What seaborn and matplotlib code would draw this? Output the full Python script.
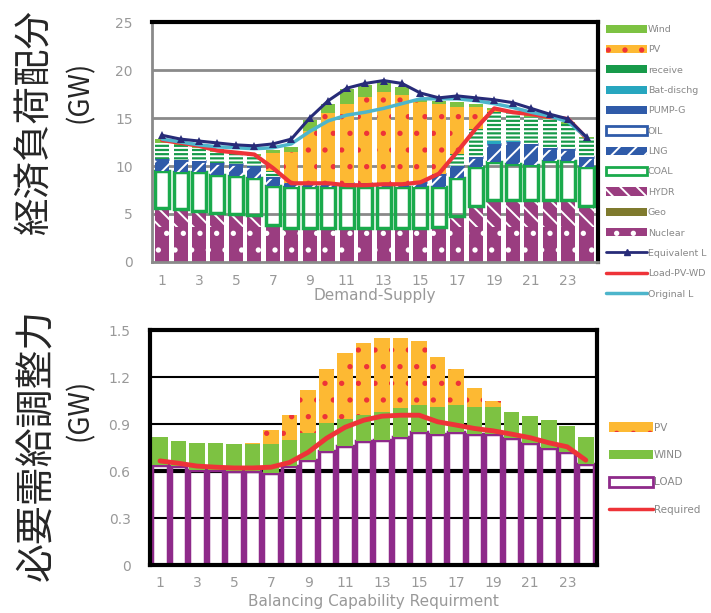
import seaborn as sns
import matplotlib.pyplot as plt
from matplotlib.patches import Patch
from matplotlib.lines import Line2D

import warnings

warnings.filterwarnings("ignore")

# ---- data (GW), hours 1..24 ----
hours = list(range(1, 25))
hour_ticks = [1, 3, 5, 7, 9, 11, 13, 15, 17, 19, 21, 23]

nuclear = [3.6, 3.6, 3.6, 3.6, 3.6, 3.6, 3.9, 3.5, 3.5, 3.5, 3.5, 3.5,
           3.5, 3.5, 3.5, 3.65, 3.6, 3.6, 3.6, 3.6, 3.6, 3.6, 3.6, 3.6]
geo = [0] * 24
hydr = [2.0, 1.9, 1.7, 1.5, 1.4, 1.3, 0, 0, 0, 0, 0, 0,
        0, 0, 0, 0, 1.2, 2.2, 2.9, 2.9, 2.9, 2.9, 2.9, 2.2]
coal = [3.9, 3.9, 4.1, 4.0, 4.0, 3.9, 4.0, 4.3, 4.3, 4.3, 4.3, 4.3,
        4.3, 4.3, 4.3, 4.15, 4.0, 4.1, 3.9, 3.7, 3.6, 4.0, 4.0, 4.1]
lng = [1.2, 1.2, 1.1, 1.2, 1.2, 1.2, 1.0, 0.4, 0.4, 0.4, 0.4, 0.4,
       0.4, 0.4, 0.5, 1.4, 1.2, 1.0, 1.9, 2.3, 2.2, 1.4, 1.3, 1.0]
oil = [0] * 24
pump_g = [0] * 24
bat_dischg = [0, 0, 0, 0, 0, 0, 0, 0, 0, 0, 0, 0,
              0, 0, 0, 0, 0, 0, 0.3, 0.1, 0, 0, 0, 0]
receive = [1.7, 1.6, 1.4, 1.2, 1.0, 1.0, 0.6, 0, 0, 0, 0, 0,
           0, 0, 0, 0, 1.3, 3.0, 3.0, 2.9, 2.8, 3.0, 2.6, 2.0]
pv = [0, 0, 0, 0, 0, 0, 1.9, 3.3, 5.4, 7.3, 8.3, 9.0,
      9.5, 9.2, 8.4, 7.3, 4.8, 2.2, 0.2, 0, 0, 0, 0, 0]
wind = [0.4, 0.3, 0.3, 0.3, 0.3, 0.3, 0.3, 0.5, 1.2, 1.0, 1.5, 1.2,
        1.0, 0.8, 0.3, 0.3, 0.6, 0.4, 0.2, 0.2, 0.2, 0.2, 0.2, 0.1]

equivalent_load = [13.2, 12.8, 12.6, 12.4, 12.2, 12.1, 12.3, 12.8, 15.0, 16.8, 18.1, 18.6,
                   18.9, 18.6, 17.6, 17.1, 17.3, 17.1, 16.9, 16.6, 16.0, 15.4, 14.9, 13.0]
original_load = [12.8, 12.5, 12.2, 12.0, 11.9, 11.8, 11.9, 12.3, 13.6, 14.7, 15.3, 15.6,
                 16.0, 16.5, 17.0, 17.0, 17.0, 16.8, 16.5, 16.1, 15.6, 15.2, 14.6, 13.0]
load_pv_wd = [12.7, 12.4, 12.1, 11.6, 11.4, 11.2, 9.8, 8.2, 8.2, 8.2, 8.0, 8.0,
              8.1, 8.1, 8.3, 9.2, 11.5, 13.9, 16.0, 15.6, 15.4, 15.1, 14.9, 12.9]

# balancing capability requirement (GW)
bc_load = [0.64, 0.63, 0.61, 0.61, 0.60, 0.60, 0.59, 0.63, 0.67, 0.73, 0.76, 0.79,
           0.80, 0.82, 0.85, 0.835, 0.85, 0.84, 0.835, 0.81, 0.78, 0.745, 0.72, 0.645]
bc_wind = [0.18, 0.16, 0.17, 0.17, 0.17, 0.17, 0.18, 0.17, 0.175, 0.18, 0.175, 0.17,
           0.18, 0.18, 0.17, 0.175, 0.17, 0.17, 0.175, 0.17, 0.175, 0.18, 0.17, 0.17]
bc_pv = [0, 0, 0, 0, 0, 0.01, 0.09, 0.16, 0.275, 0.345, 0.42, 0.46,
         0.47, 0.45, 0.41, 0.32, 0.23, 0.12, 0.04, 0, 0, 0, 0, 0]
bc_required = [0.665, 0.65, 0.632, 0.625, 0.62, 0.62, 0.625, 0.655, 0.72, 0.81, 0.88, 0.925,
               0.951, 0.957, 0.957, 0.915, 0.894, 0.872, 0.857, 0.836, 0.813, 0.781, 0.755, 0.67]

# ---- colours ----
c_nuc = '#9A3D80'
c_geo = '#7F7A2E'
c_coal = '#1AAA4C'
c_lng = '#2F5BA9'
c_bat = '#27A6BF'
c_recv = '#179A4A'
c_pv = '#FDB933'
c_wind = '#7DC242'
c_navy = '#272B78'
c_red = '#EE3338'
c_cyan = '#4DB5CB'
c_gray = '#8A8A8A'
c_load = '#8E2A8A'
c_text = '#999999'

sns.set_theme(style='white')
plt.rcParams['font.family'] = ['DejaVu Sans', 'Noto Sans CJK JP']
plt.rcParams['hatch.linewidth'] = 1.4


def stack_bars(ax, values_list, styles, width):
    base = [0.0] * len(hours)
    for vals, st in zip(values_list, styles):
        ax.bar(hours, vals, bottom=base, width=width, **st)
        base = [b + v for b, v in zip(base, vals)]
    return base


fig = plt.figure(figsize=(7.11, 6.13), dpi=100)

# ================= top: economic load dispatch =================
ax1 = fig.add_axes([0.214, 0.5726, 0.627, 0.3915])
for y in [5, 10, 15, 20]:
    ax1.axhline(y, color=c_gray, lw=2, zorder=0)

top_layers = [nuclear, geo, hydr, coal, lng, oil, pump_g, bat_dischg, receive, pv, wind]
top_styles = [
    dict(color=c_nuc, edgecolor='white', hatch='.', lw=0),
    dict(color=c_geo, lw=0),
    dict(color=c_nuc, edgecolor='white', hatch='\\\\', lw=0),
    dict(fill=False, edgecolor=c_coal, lw=2.5),
    dict(color=c_lng, edgecolor='white', hatch='//', lw=0),
    dict(fill=False, edgecolor=c_lng, lw=2),
    dict(color=c_lng, lw=0),
    dict(color=c_bat, lw=0),
    dict(color=c_recv, edgecolor='white', hatch='----', lw=0),
    dict(color=c_pv, edgecolor=c_red, hatch='.', lw=0),
    dict(color=c_wind, lw=0),
]
stack_bars(ax1, top_layers, top_styles, 0.76)

sns.lineplot(x=hours, y=load_pv_wd, ax=ax1, color=c_red, lw=3, zorder=5)
sns.lineplot(x=hours, y=original_load, ax=ax1, color=c_cyan, lw=2.5, zorder=6)
sns.lineplot(x=hours, y=equivalent_load, ax=ax1, color=c_navy, lw=2.2, marker='^',
             markersize=6, markeredgewidth=0, zorder=7)

ax1.set_xlim(0.46, 24.62)
ax1.set_ylim(0, 25)
ax1.set_xticks(hour_ticks)
ax1.set_yticks([0, 5, 10, 15, 20, 25])
ax1.tick_params(axis='both', length=0, labelsize=10, labelcolor=c_text)
ax1.tick_params(axis='y', pad=14)
ax1.tick_params(axis='x', pad=9)
ax1.set_xlabel('Demand-Supply', fontsize=11, color=c_text, labelpad=0)
ax1.set_ylabel('')
for side in ['left', 'bottom']:
    ax1.spines[side].set_color(c_gray)
    ax1.spines[side].set_linewidth(2)
for side in ['top', 'right']:
    ax1.spines[side].set_color('black')
    ax1.spines[side].set_linewidth(3)

top_handles = [
    Patch(facecolor=c_wind, lw=0),
    Patch(facecolor=c_pv, edgecolor=c_red, hatch='.', lw=0),
    Patch(facecolor=c_recv, edgecolor='white', hatch='-', lw=0),
    Patch(facecolor=c_bat, lw=0),
    Patch(facecolor=c_lng, lw=0),
    Patch(facecolor='white', edgecolor=c_lng, lw=2),
    Patch(facecolor=c_lng, edgecolor='white', hatch='//', lw=0),
    Patch(facecolor='white', edgecolor=c_coal, lw=2),
    Patch(facecolor=c_nuc, edgecolor='white', hatch='\\\\', lw=0),
    Patch(facecolor=c_geo, lw=0),
    Patch(facecolor=c_nuc, edgecolor='white', hatch='.', lw=0),
    Line2D([], [], color=c_navy, lw=2, marker='^', markersize=5),
    Line2D([], [], color=c_red, lw=2.5),
    Line2D([], [], color=c_cyan, lw=2.5),
]
top_labels = ['Wind', 'PV', 'receive', 'Bat-dischg', 'PUMP-G', 'OIL', 'LNG', 'COAL',
              'HYDR', 'Geo', 'Nuclear', 'Equivalent L', 'Load-PV-WD', 'Original L']
fig.legend(top_handles, top_labels, loc='upper left', bbox_to_anchor=(0.852, 0.96),
           frameon=False, fontsize=6.8, labelcolor='#888888', handlelength=4.4,
           handleheight=0.95, labelspacing=1.17, handletextpad=0.05, borderpad=0,
           borderaxespad=0)

# ================= bottom: balancing capability =================
ax2 = fig.add_axes([0.211, 0.0783, 0.629, 0.383])
for y in [0.3, 0.9, 1.2]:
    ax2.axhline(y, color='black', lw=1.5, zorder=0)
ax2.axhline(0.6, color='black', lw=3, zorder=0)

ax2.bar(hours, bc_load, width=0.84, fill=False, edgecolor=c_load, lw=2.5)
ax2.bar(hours, bc_wind, bottom=bc_load, width=0.84, color=c_wind, lw=0)
bc_base = [a + b for a, b in zip(bc_load, bc_wind)]
ax2.bar(hours, bc_pv, bottom=bc_base, width=0.84, color=c_pv, edgecolor=c_red,
        hatch='.', lw=0)
sns.lineplot(x=hours, y=bc_required, ax=ax2, color=c_red, lw=3.5, zorder=5)

ax2.set_xlim(0.46, 24.62)
ax2.set_ylim(0, 1.5)
ax2.set_xticks(hour_ticks)
ax2.set_yticks([0, 0.3, 0.6, 0.9, 1.2, 1.5])
ax2.set_yticklabels(['0', '0.3', '0.6', '0.9', '1.2', '1.5'])
ax2.tick_params(axis='both', length=0, labelsize=10, labelcolor=c_text)
ax2.tick_params(axis='y', pad=14)
ax2.tick_params(axis='x', pad=8)
ax2.set_xlabel('Balancing Capability Requirment', fontsize=11, color=c_text,
               labelpad=3)
ax2.set_ylabel('')
for side in ['left', 'bottom', 'top', 'right']:
    ax2.spines[side].set_color('black')
    ax2.spines[side].set_linewidth(3)

bottom_handles = [
    Patch(facecolor=c_pv, edgecolor=c_red, hatch='.', lw=0),
    Patch(facecolor=c_wind, lw=0),
    Patch(facecolor='white', edgecolor=c_load, lw=2),
    Line2D([], [], color=c_red, lw=2.5),
]
fig.legend(bottom_handles, ['PV', 'WIND', 'LOAD', 'Required'], loc='upper left',
           bbox_to_anchor=(0.857, 0.311), frameon=False, fontsize=7.5,
           labelcolor='#888888', handlelength=4.2, handleheight=1.0,
           labelspacing=1.65, handletextpad=0.1, borderpad=0, borderaxespad=0)

# big vertical Japanese axis titles
jp = ['Noto Sans CJK JP', 'DejaVu Sans']
fig.text(0.049, 0.80, '経済負荷配分', rotation=90, fontsize=27, ha='center', va='center',
         family=jp)
fig.text(0.112, 0.85, '(GW)', rotation=90, fontsize=20, ha='center', va='center', family=jp)
fig.text(0.053, 0.274, '必要需給調整力', rotation=90, fontsize=28, ha='center', va='center',
         family=jp)
fig.text(0.112, 0.331, '(GW)', rotation=90, fontsize=20, ha='center', va='center', family=jp)

plt.savefig('out.png', dpi=100)
